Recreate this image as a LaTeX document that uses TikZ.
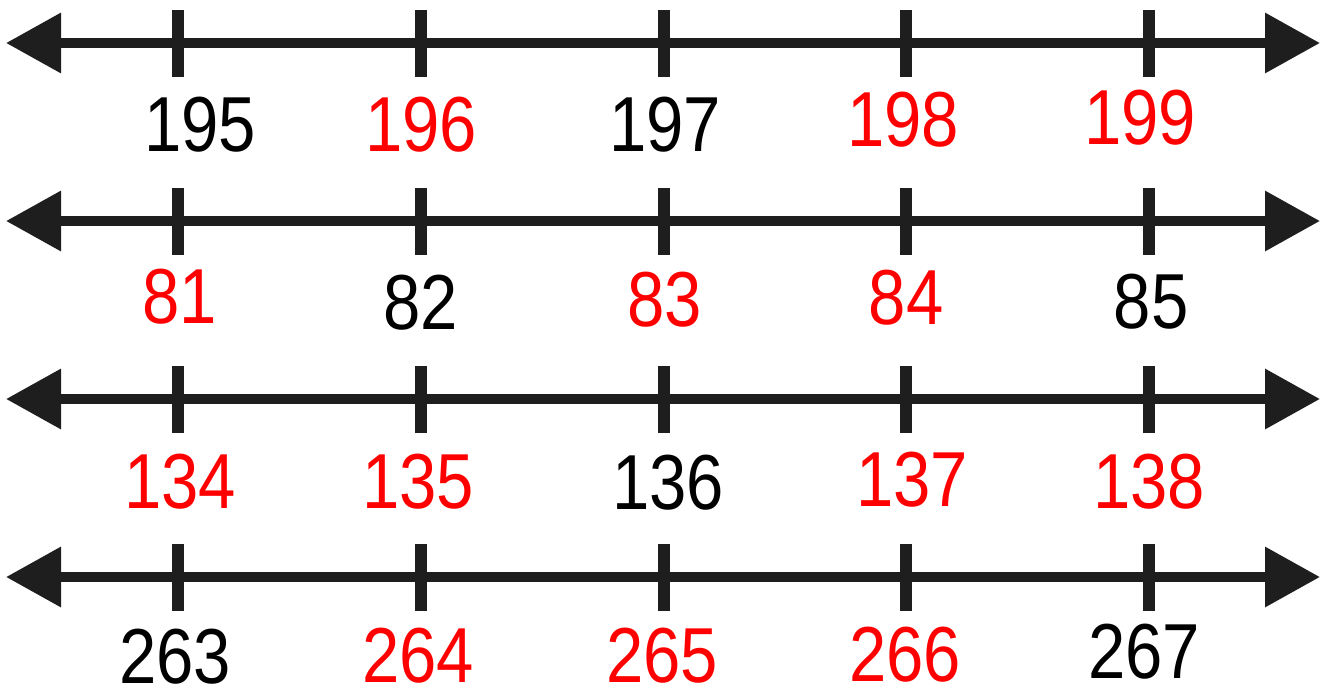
\documentclass[tikz,border=0pt]{standalone}
\usepackage{fontspec}
\setmainfont{Liberation Sans}
\usetikzlibrary{arrows.meta}
\definecolor{linec}{HTML}{1E1E1E}
\definecolor{redc}{HTML}{FF0000}
\tikzset{
  numline/.style={line width=10pt, draw=linec, {Triangle[length=55pt,width=58pt]}-{Triangle[length=55pt,width=58pt]}},
  tickmark/.style={line width=12pt, draw=linec},
  lab/.style={inner sep=0pt, font=\fontsize{78}{78}\selectfont, xscale=0.86},
  blk/.style={lab, text=black},
  rd/.style={lab, text=redc}
}
\begin{document}
\begin{tikzpicture}[x=1pt,y=-1pt]
\useasboundingbox (0,0) rectangle (1330,699);
\foreach \r/\y in {1/43,2/221,3/399,4/577}{
  \coordinate (L\r) at (6,\y);
  \coordinate (R\r) at (1320,\y);
  \draw[numline] (L\r) -- (R\r);
  \foreach \t/\x in {1/178,2/421,3/664,4/906,5/1149}{
    \coordinate (T\r\t) at (\x,\y-33);
    \coordinate (B\r\t) at (\x,\y+34);
    \draw[tickmark] (T\r\t) -- (B\r\t);
  }
}
% row 1
\node[blk] (n195) at (200,125) {195};
\node[rd]  (n196) at (421,125) {196};
\node[blk] (n197) at (665,125) {197};
\node[rd]  (n198) at (903,120) {198};
\node[rd]  (n199) at (1140,118) {199};
% row 2
\node[rd]  (n81) at (180,297) {81};
\node[blk] (n82) at (421,303) {82};
\node[rd]  (n83) at (665,300) {83};
\node[rd]  (n84) at (906,298) {84};
\node[blk] (n85) at (1151,302) {85};
% row 3
\node[rd]  (n134) at (180,482) {134};
\node[rd]  (n135) at (418,482) {135};
\node[blk] (n136) at (668,483) {136};
\node[rd]  (n137) at (912,480) {137};
\node[rd]  (n138) at (1149,482) {138};
% row 4
\node[blk] (n263) at (175,657) {263};
\node[rd]  (n264) at (418,656) {264};
\node[rd]  (n265) at (662,656) {265};
\node[rd]  (n266) at (905,655) {266};
\node[blk] (n267) at (1144,652) {267};
\end{tikzpicture}
\end{document}
